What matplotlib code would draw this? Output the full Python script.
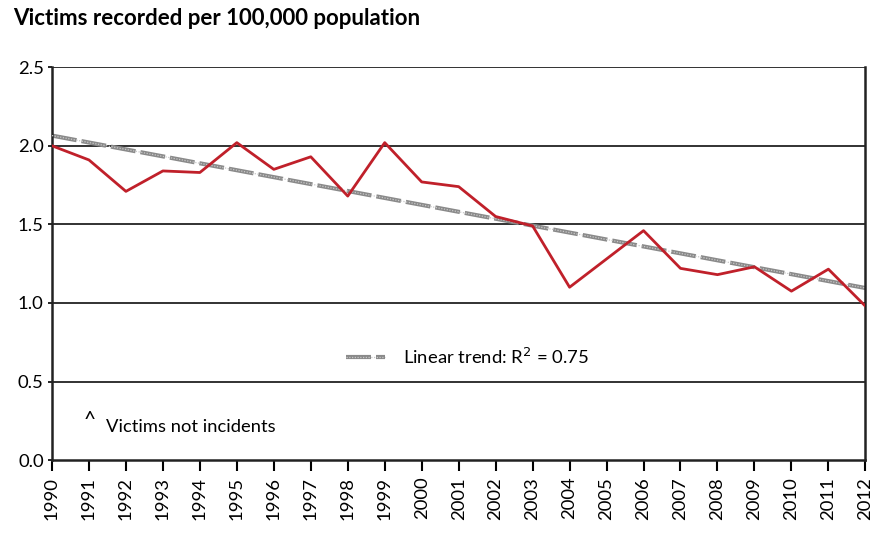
import numpy as np
import matplotlib.pyplot as plt

plt.rcParams['font.family'] = ['Lato', 'DejaVu Sans']

years = list(range(1990, 2013))
victims = [2.00, 1.91, 1.71, 1.84, 1.83, 2.02, 1.85, 1.93, 1.68, 2.02, 1.77, 1.74,
           1.55, 1.49, 1.10, 1.28, 1.46, 1.22, 1.18, 1.23, 1.075, 1.215, 0.98]
trend_ends = [2.065, 1.095]
yticks = [0.0, 0.5, 1.0, 1.5, 2.0, 2.5]

fig = plt.figure(figsize=(8.87, 5.51), dpi=100)
ax = fig.add_axes([0.0586, 0.165, 0.917, 0.713])

for t in yticks[1:]:
    ax.axhline(t, color='#222222', lw=1.3, zorder=1)

# trend line: grey dashes with light dotted overlay
tx = [years[0], years[-1]]
ax.plot(tx, trend_ends, color='#8a8a8a', lw=3, ls=(0, (6, 1.2)), zorder=2)
ax.plot(tx, trend_ends, color='#c8c8c8', lw=0.9, ls=(0, (1, 1.2)), zorder=3)

ax.plot(years, victims, color='#c0202a', lw=2, zorder=4)

ax.set_xlim(1990, 2012)
ax.set_ylim(0, 2.5)
ax.set_xticks(years)
ax.set_xticklabels([str(y) for y in years], rotation=90, fontsize=13.3)
ax.set_yticks(yticks)
ax.set_yticklabels(['%.1f' % t for t in yticks], fontsize=13.3)
ax.tick_params(axis='x', direction='out', length=8, width=1.5, pad=4)
ax.tick_params(axis='y', direction='out', length=3, width=1.2, pad=3)

for s in ['left', 'bottom', 'right']:
    ax.spines[s].set_color('#222222')
    ax.spines[s].set_linewidth(1.8)
ax.spines['top'].set_visible(False)

# legend
ax.plot([1997.95, 1999.0], [0.655, 0.655], color='#8a8a8a', lw=3, ls=(0, (6, 1.2)))
ax.plot([1997.95, 1999.0], [0.655, 0.655], color='#c8c8c8', lw=0.9, ls=(0, (1, 1.2)))
ax.text(1999.5, 0.655, 'Linear trend: R$^2$ = 0.75', fontsize=13.3, va='center')

ax.text(1990.85, 0.22, '^', fontsize=15)
ax.text(1991.45, 0.21, 'Victims not incidents', fontsize=13.2, va='center')

fig.text(0.015, 0.985, 'Victims recorded per 100,000 population', fontsize=16,
         fontweight='bold', va='top')

fig.savefig('out.png', dpi=100)
